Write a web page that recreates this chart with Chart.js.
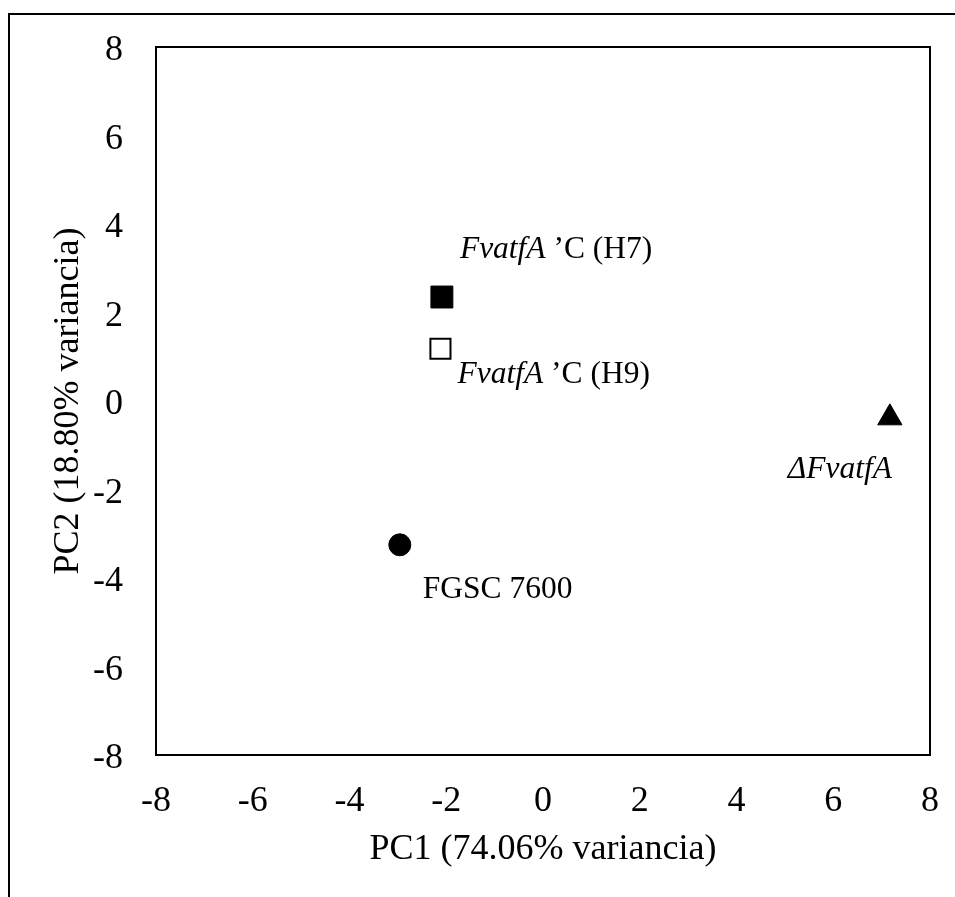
<!DOCTYPE html>
<html>
<head>
<meta charset="utf-8">
<script src="https://cdn.jsdelivr.net/npm/chart.js@4/dist/chart.umd.min.js"></script>
<style>
    body { margin: 0; background: #fff; }
    #wrap { position: relative; width: 955px; height: 897px; overflow: hidden; }
    #moldura { position: absolute; left: 8px; top: 13px; width: 1000px; height: 1000px;
               border-left: 2px solid #000; border-top: 2px solid #000; }
    canvas { position: absolute; left: 0; top: 0; }
</style>
</head>
<body>
<div id="wrap">
    <div id="moldura"></div>
    <canvas id="pcaChart" width="955" height="897"></canvas>
</div>
<script>
// Scores da PCA
const amostras = ['FvatfA C (H7)', 'FvatfA C (H9)', 'FGSC 7600', 'ΔFvatfA'];
const pc1 = [-2.09, -2.12, -2.96, 7.17];
const pc2 = [2.35, 1.18, -3.25, -0.38];
const eixoMin = -8;
const eixoMax = 8;
const passo = 2;

// Rótulos de cada ponto (partes em itálico / normal)
const rotulos = [
    [{ t: 'FvatfA', i: true }, { t: ' \u2019C (H7)', i: false }],
    [{ t: 'FvatfA', i: true }, { t: ' \u2019C (H9)', i: false }],
    [{ t: 'FGSC 7600', i: false }],
    [{ t: '\u0394FvatfA', i: true }]
];
// deslocamento do texto em relação ao ponto (px)
const deslocRotulo = [[18, -39], [17, 34], [23, 53], [-102, 60]];

const fonte = '"Liberation Serif", "Times New Roman", serif';

// Moldura completa da área do gráfico
const moldura = {
    id: 'moldura',
    afterDraw(chart) {
        const a = chart.chartArea;
        const ctx = chart.ctx;
        ctx.save();
        ctx.strokeStyle = '#000';
        ctx.lineWidth = 2;
        ctx.strokeRect(a.left, a.top, a.right - a.left, a.bottom - a.top);
        ctx.restore();
    }
};

// Rótulos dos pontos
const rotulosPontos = {
    id: 'rotulosPontos',
    afterDatasetsDraw(chart) {
        const ctx = chart.ctx;
        const meta = chart.getDatasetMeta(0);
        ctx.save();
        ctx.fillStyle = '#000';
        ctx.textBaseline = 'alphabetic';
        ctx.textAlign = 'left';
        meta.data.forEach((pt, idx) => {
            let x = pt.x + deslocRotulo[idx][0];
            const y = pt.y + deslocRotulo[idx][1];
            rotulos[idx].forEach(parte => {
                ctx.font = (parte.i ? 'italic ' : '') + '31.5px ' + fonte;
                ctx.fillText(parte.t, x, y);
                x += ctx.measureText(parte.t).width;
            });
        });
        ctx.restore();
    }
};

function semPadding(scale) {
    scale.paddingTop = 0;
    scale.paddingBottom = 0;
    scale.paddingLeft = 0;
    scale.paddingRight = 0;
}

const ctx = document.getElementById('pcaChart').getContext('2d');
const pcaChart = new Chart(ctx, {
    type: 'scatter',
    data: {
        labels: amostras,
        datasets: [{
            data: pc1.map((v, i) => ({ x: v, y: pc2[i] })),
            pointStyle: ['rect', 'rect', 'circle', 'triangle'],
            pointRadius: [15.5, 14.2, 11, 14],
            backgroundColor: ['#000', '#fff', '#000', '#000'],
            borderColor: '#000',
            borderWidth: [1, 2, 1, 1]
        }]
    },
    options: {
        responsive: false,
        animation: false,
        events: [],
        layout: { padding: { top: 47, right: 25, left: 0, bottom: 0 } },
        plugins: {
            legend: { display: false },
            tooltip: { enabled: false }
        },
        scales: {
            x: {
                type: 'linear',
                min: eixoMin,
                max: eixoMax,
                grid: { display: false, drawTicks: false },
                border: { display: false },
                ticks: {
                    stepSize: passo,
                    padding: 25,
                    color: '#000',
                    font: { family: fonte, size: 36 }
                },
                title: {
                    display: true,
                    text: 'PC1 (74.06% variancia)',
                    color: '#000',
                    font: { family: fonte, size: 36 },
                    padding: { top: 0, bottom: 26 }
                },
                afterFit: function(scale) { scale.height = 142; semPadding(scale); }
            },
            y: {
                type: 'linear',
                min: eixoMin,
                max: eixoMax,
                grid: { display: false, drawTicks: false },
                border: { display: false },
                ticks: {
                    stepSize: passo,
                    padding: 33,
                    color: '#000',
                    font: { family: fonte, size: 36, lineHeight: '8px' },
                    // linha vazia para baixar o número uns 4px
                    callback: function(value) { return ['', String(value)]; }
                },
                title: {
                    display: true,
                    text: 'PC2 (18.80% variancia)',
                    color: '#000',
                    font: { family: fonte, size: 36 },
                    padding: { top: 47, bottom: 0 }
                },
                afterFit: function(scale) { scale.width = 156; semPadding(scale); }
            }
        }
    },
    plugins: [moldura, rotulosPontos]
});
</script>
</body>
</html>
